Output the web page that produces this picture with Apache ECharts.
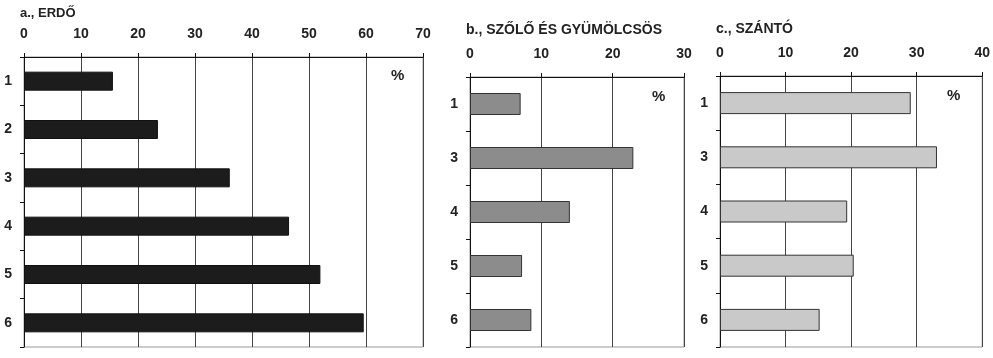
<!DOCTYPE html>
<html><head><meta charset="utf-8">
<script src="https://cdn.jsdelivr.net/npm/echarts@6/dist/echarts.min.js"></script>
<style>html,body{margin:0;padding:0;background:#fff}#c{width:993px;height:358px}</style>
</head><body><div id="c"></div>
<script>
const catsA = ['1','2','3','4','5','6'];
const valsA = [15.6, 23.5, 36.1, 46.5, 52.0, 59.6];
const catsB = ['1','3','4','5','6'];
const valsB = [7.1, 22.9, 14.0, 7.3, 8.6];
const catsC = ['1','3','4','5','6'];
const valsC = [29.1, 33.1, 19.4, 20.4, 15.2];
const titles = ['a., ERDŐ', 'b., SZŐLŐ ÉS GYÜMÖLCSÖS', 'c., SZÁNTÓ'];
const maxes = [70, 30, 40];

const FONT = '"Liberation Sans", Arial, sans-serif';
const grids = [
  {left: 24, right: 570, top: 57, bottom: 11},
  {left: 470, right: 309, top: 77, bottom: 11},
  {left: 720, right: 10, top: 76, bottom: 11}
];
const cats = [catsA, catsB, catsC];
const vals = [valsA, valsB, valsC];
const fills = ['#1c1c1c', '#8c8c8c', '#c9c9c9'];
const barW = [19, 22, 22];

const chart = echarts.init(document.getElementById('c'));
const option = {
  backgroundColor: '#fff',
  animation: false,
  title: [
    {text: titles[0], left: 20, top: 7, fs: 13},
    {text: titles[1], left: 466, top: 23, fs: 14},
    {text: titles[2], left: 716, top: 22, fs: 14}
  ].map(t => ({text: t.text, left: t.left, top: t.top, padding: 0,
    textStyle: {fontFamily: FONT, fontSize: t.fs, fontWeight: 'bold', color: '#222'}})),
  grid: grids.map(g => Object.assign({}, g, {show: true, borderColor: '#999', borderWidth: 1})),
  xAxis: maxes.map((m, i) => ({
    type: 'value', gridIndex: i, position: 'top', min: 0, max: m, interval: 10,
    axisLine: {show: true, lineStyle: {color: '#111', width: 1}},
    axisTick: {show: true, length: 4, lineStyle: {color: '#111'}},
    splitLine: {show: true, lineStyle: {color: '#444', width: 1}},
    axisLabel: {margin: 16, fontFamily: FONT, fontSize: 14, fontWeight: 'bold', color: '#222'}
  })),
  yAxis: cats.map((c, i) => ({
    type: 'category', gridIndex: i, inverse: true, data: c,
    axisLine: {show: true, lineStyle: {color: '#111', width: 1}},
    axisTick: {show: true, length: 4, lineStyle: {color: '#111'}},
    axisLabel: {margin: 12, fontFamily: FONT, fontSize: 14, fontWeight: 'bold', color: '#222'}
  })),
  series: vals.map((v, i) => ({
    type: 'bar', xAxisIndex: i, yAxisIndex: i, data: v, barWidth: barW[i],
    itemStyle: {color: fills[i], borderColor: i === 0 ? '#111' : '#333', borderWidth: 1},
    silent: true
  })),
  graphic: [
    {type: 'text', left: 391, top: 68, style: {text: '%', font: 'bold 15px ' + FONT, fill: '#222'}},
    {type: 'text', left: 652, top: 89, style: {text: '%', font: 'bold 15px ' + FONT, fill: '#222'}},
    {type: 'text', left: 947, top: 88, style: {text: '%', font: 'bold 15px ' + FONT, fill: '#222'}}
  ]
};
chart.setOption(option);
</script></body></html>
